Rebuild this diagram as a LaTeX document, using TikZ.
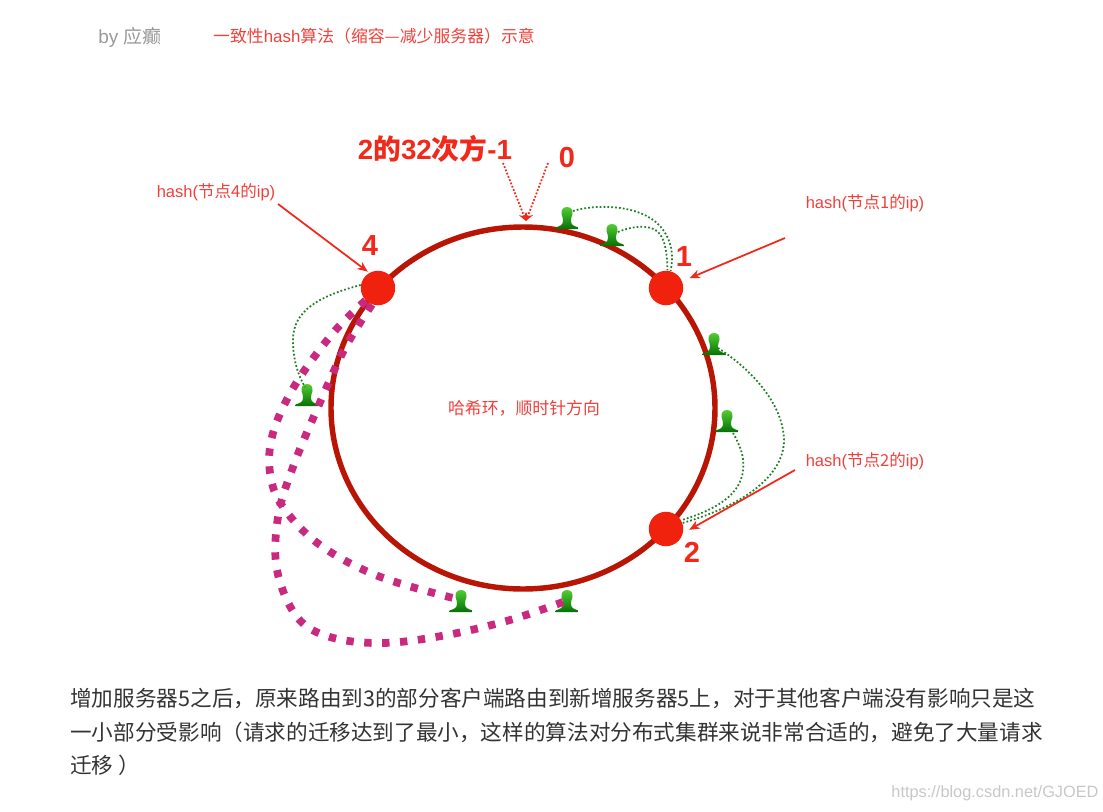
\documentclass[tikz,border=0pt]{standalone}
\usepackage{fontspec}
\usetikzlibrary{arrows.meta}
\setmainfont{Liberation Sans}
\newfontfamily\cjk{Noto Sans CJK SC}
\definecolor{ringred}{HTML}{B81505}
\definecolor{serverred}{HTML}{F0220E}
\definecolor{labelred}{HTML}{F0403A}
\definecolor{bigred}{HTML}{F2281A}
\definecolor{routegreen}{HTML}{1E7F25}
\definecolor{movedpink}{HTML}{C92A80}
\definecolor{headgreen}{HTML}{52CC33}
\definecolor{footgreen}{HTML}{067006}
\tikzset{
    server/.style={circle, fill=serverred, inner sep=0pt, minimum size=0.69cm},
    client/.style={inner sep=0pt, minimum width=0.46cm, minimum height=0.44cm,
        path picture={
            \shade[shift={(path picture bounding box.center)}, top color=headgreen, bottom color=footgreen, x=0.02cm, y=-0.02cm]
                (0,-11) .. controls (-4,-11) and (-6,-8) .. (-5.5,-4) .. controls (-5,-1) and (-3.5,0) .. (-4,3)
                .. controls (-4,7) and (-7,8) .. (-11.5,9.5) -- (-11.5,11) -- (11.5,11) -- (11.5,9.5)
                .. controls (7,8) and (4,7) .. (4,3) .. controls (3.5,0) and (5,-1) .. (5.5,-4)
                .. controls (6,-8) and (4,-11) .. (0,-11) -- cycle;
        }},
    hashlabel/.style={text=labelred, font=\fontsize{9.4}{11}\selectfont},
    bignum/.style={text=bigred, font=\fontsize{16.5}{18}\selectfont\bfseries},
    routeline/.style={routegreen, line width=1pt, dash pattern=on 1pt off 1.2pt},
    movedline/.style={movedpink, line width=4.4pt, dash pattern=on 4.2pt off 6pt},
    hasharrow/.style={-{Stealth[length=6pt, width=5pt]}, bigred, line width=1pt},
    endarrow/.style={-{Stealth[length=4.5pt, width=5pt]}, bigred, line width=1pt, dash pattern=on 1pt off 1pt},
}
\begin{document}
\begin{tikzpicture}[x=0.02cm, y=-0.02cm]
    \useasboundingbox (0,0) rectangle (1103,812);

    % Heading
    \node[text=black!40, font=\fontsize{10.8}{12}\selectfont] (byline) at (130,37) {by {\cjk 应癫}};
    \node[text=labelred, font=\fontsize{9.6}{11}\selectfont] (heading) at (374,36) {{\cjk 一致性}hash{\cjk 算法（缩容—减少服务器）示意}};

    % Ring
    \draw[ringred, line width=3.1pt] (523,408) ellipse (192 and 181);
    \node[text=labelred, font=\fontsize{9.6}{12}\selectfont\cjk] (ringtext) at (524,408) {哈希环，顺时针方向};

    % Clients
    \node[client] (c1) at (567,218) {};
    \node[client] (c2) at (612,235) {};
    \node[client] (c3) at (714,344) {};
    \node[client] (c4) at (727,421) {};
    \node[client] (c5) at (307,395) {};
    \node[client] (c6) at (461,601) {};
    \node[client] (c7) at (567,601) {};

    % Servers
    \node[server] (n1) at (666,288) {};
    \node[server] (n2) at (666,529) {};
    \node[server] (n4) at (378,288) {};
    \node[bignum] (num1) at (684,257) {1};
    \node[bignum] (num2) at (692,552) {2};
    \node[bignum] (num4) at (370,246) {4};

    % Top of the ring
    \node[text=bigred, font=\fontsize{15.8}{18}\selectfont\bfseries] (lmax) at (435,149) {2{\cjk 的}32{\cjk 次方}-1};
    \node[bignum] (lzero) at (567,158) {0};
    \coordinate (ringtop) at (526,221);
    \coordinate (maxfoot) at (503,163);
    \coordinate (zerofoot) at (548,163);
    \draw[endarrow] (maxfoot) -- (ringtop);
    \draw[endarrow] (zerofoot) -- (ringtop);

    % Hash labels
    \node[hashlabel] (h4) at (216,192) {hash({\cjk 节点4的}ip)};
    \node[hashlabel] (h1) at (865,203) {hash({\cjk 节点1的}ip)};
    \node[hashlabel] (h2) at (865,461) {hash({\cjk 节点2的}ip)};
    \coordinate (a4) at (278,204);
    \coordinate (a1) at (785,238);
    \coordinate (a2) at (795,470);
    \draw[hasharrow, shorten >=1pt] (a4) -- (n4.120);
    \draw[hasharrow, shorten >=4.5pt] (a1) -- (n1);
    \draw[hasharrow, shorten >=4pt] (a2) -- (n2.-14);

    % Client routes
    \draw[routeline] ([shift={(6,-7)}]c1.center) .. controls (595,204) and (640,204) .. (660,226) .. controls (672,240) and (674,255) .. (n1.75);
    \draw[routeline] ([shift={(6,-3)}]c2.center) .. controls (632,226) and (650,224) .. (658,232) .. controls (666,240) and (667,255) .. (n1.85);
    \draw[routeline] ([shift={(4,4)}]c3.center) .. controls (745,365) and (783,400) .. (784,440) .. controls (784,475) and (745,505) .. (n2.20);
    \draw[routeline] ([shift={(6,12)}]c4.center) .. controls (740,445) and (745,458) .. (743,470) .. controls (741,495) and (715,510) .. (n2.30);
    \draw[routeline] (n4.170) .. controls (320,296) and (293,310) .. (293,340) .. controls (293,360) and (298,375) .. ([shift={(-2,-8)}]c5.center);

    % Moved clients
    \draw[movedline] plot[smooth, tension=0.6] coordinates {(n4.225) (333,333) (295,385) (273,433) (270,473) (283,507) (320,545) (378,576) ([shift={(-8,-3)}]c6.center)};
    \draw[movedline] plot[smooth, tension=0.6] coordinates {(n4.250) (345,348) (318,407) (293,467) (278,517) (277,570) (297,617) (330,637) (383,643) (447,635) (510,620) ([shift={(-4,1)}]c7.center)};

    % Caption
    \node[anchor=west, inner sep=0pt, align=left, text=black!80, font=\fontsize{12.3}{19}\selectfont\cjk] (caption) at (70,732) {增加服务器5之后，原来路由到3的部分客户端路由到新增服务器5上，对于其他客户端没有影响只是这\\一小部分受影响（请求的迁移达到了最小，这样的算法对分布式集群来说非常合适的，避免了大量请求\\迁移 ）};
    \node[text=black!22, font=\fontsize{9.3}{12}\selectfont] (mark) at (995,793) {https://blog.csdn.net/GJOED};
\end{tikzpicture}
\end{document}
